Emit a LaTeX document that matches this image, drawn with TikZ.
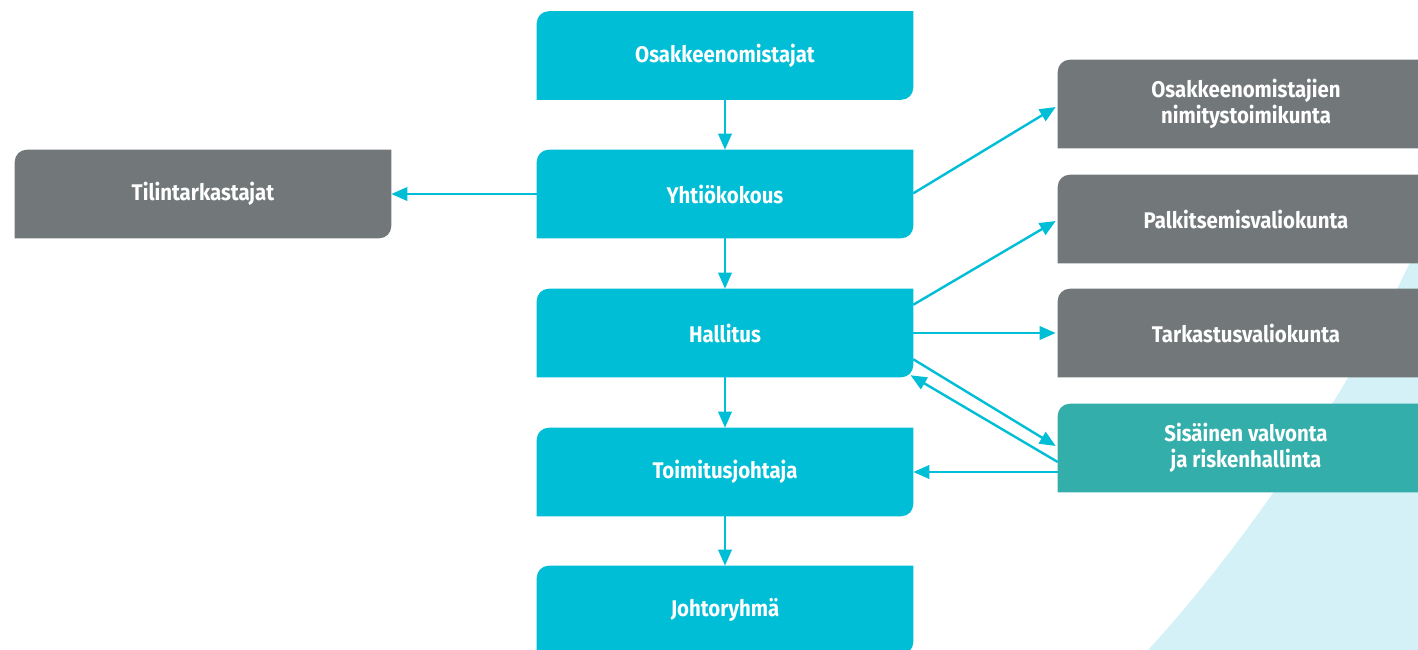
\documentclass[tikz,border=0pt]{standalone}
\usepackage{fontspec}
\setmainfont{Fira Sans}[FakeStretch=0.9]
\usetikzlibrary{arrows.meta,backgrounds}
\definecolor{OrgCyan}{HTML}{00BED6}
\definecolor{OrgGray}{HTML}{727879}
\definecolor{OrgTeal}{HTML}{33AEAB}
\definecolor{OrgLight}{HTML}{D3F1F6}

\begin{document}
\begin{tikzpicture}[x=0.75pt,y=0.75pt,
  orgbox/.style={minimum width=282pt,minimum height=66pt,inner sep=0pt,align=center,
    text=white,font=\bfseries\fontsize{17}{19.5}\selectfont},
  linkarrow/.style={draw=OrgCyan,line width=1.8pt,-{Triangle[length=12pt,width=10pt]}}]

\path[use as bounding box] (0,0) rectangle (1418,-650);
\clip (0,0) rectangle (1418,-650);

% Middle column
\node[orgbox] (omistajat) at (725,-55.5) {Osakkeenomistajat};
\node[orgbox] (yhtiokokous) at (725,-194) {Yhtiökokous};
\node[orgbox] (hallitus) at (725,-333) {Hallitus};
\node[orgbox] (toimitusjohtaja) at (725,-472) {Toimitusjohtaja};
\node[orgbox] (johtoryhma) at (725,-610) {Johtoryhmä};

% Left
\node[orgbox] (tilintarkastajat) at (203,-194) {Tilintarkastajat};

% Right column
\node[orgbox] (nimitys) at (1246,-104) {Osakkeenomistajien\\nimitystoimikunta};
\node[orgbox] (palkitsemis) at (1246,-219) {Palkitsemisvaliokunta};
\node[orgbox] (tarkastus) at (1246,-333) {Tarkastusvaliokunta};
\node[orgbox] (sisainen) at (1246,-448) {Sisäinen valvonta\\ja riskenhallinta};

% Box shapes and backdrop
\begin{scope}[on background layer]
  \clip (0,0) rectangle (1418,-650);
  \fill[OrgLight] (1148,-650) .. controls (1245,-545) and (1372,-362) .. (1432,-212) -- (1440,-660) -- cycle;
  \foreach \n/\c in {omistajat/OrgCyan,yhtiokokous/OrgCyan,hallitus/OrgCyan,toimitusjohtaja/OrgCyan,
      johtoryhma/OrgCyan,tilintarkastajat/OrgGray,nimitys/OrgGray,palkitsemis/OrgGray,
      tarkastus/OrgGray,sisainen/OrgTeal}
    \fill[\c] (\n.south west) -- ([yshift=-9pt]\n.north west) arc[start angle=180,end angle=90,radius=9pt]
      -- (\n.north east) -- ([yshift=9pt]\n.south east) arc[start angle=0,end angle=-90,radius=9pt] -- cycle;
\end{scope}

% Connectors
\draw[linkarrow] (omistajat) -- (yhtiokokous);
\draw[linkarrow] (yhtiokokous) -- (hallitus);
\draw[linkarrow] (hallitus) -- (toimitusjohtaja);
\draw[linkarrow] (toimitusjohtaja) -- (johtoryhma);
\draw[linkarrow] (yhtiokokous.west) -- (tilintarkastajat.east);
\draw[linkarrow] ([yshift=0.5pt]yhtiokokous.east) -- ([shift={(-1.5pt,-2.25pt)}]nimitys.west);
\draw[linkarrow] ([yshift=-12pt]hallitus.north east) -- ([shift={(-1.5pt,-1.5pt)}]palkitsemis.west);
\draw[linkarrow] (hallitus.east) -- ([xshift=-1.5pt]tarkastus.west);
\draw[linkarrow] ([yshift=13.5pt]hallitus.south east) -- ([shift={(-1.5pt,1.5pt)}]sisainen.west);
\draw[linkarrow] ([yshift=-10.5pt]sisainen.west) -- ([shift={(-2pt,1.5pt)}]hallitus.south east);
\draw[linkarrow] (sisainen.west |- toimitusjohtaja.east) -- (toimitusjohtaja.east);
\end{tikzpicture}
\end{document}
